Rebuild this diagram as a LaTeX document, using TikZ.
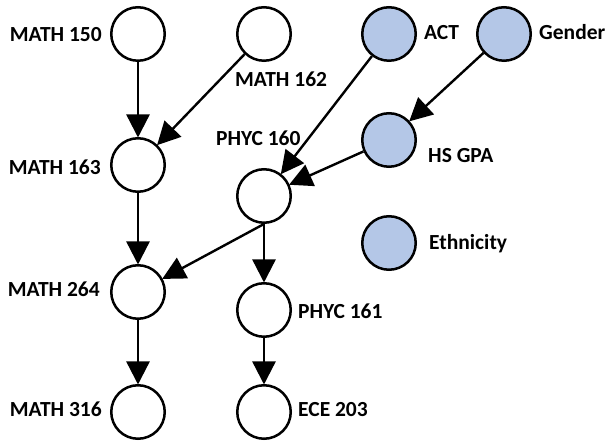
\documentclass[tikz,border=0pt]{standalone}
\usepackage{fontspec}
\setmainfont{Carlito}
\usetikzlibrary{arrows.meta}
\definecolor{nodeblue}{RGB}{180,199,231}
\tikzset{
  course/.style={circle, draw=black, line width=2.5pt, minimum size=53.5pt, inner sep=0pt, fill=white},
  factor/.style={course, fill=nodeblue},
  lbl/.style={inner sep=0pt, font=\fontsize{21.5}{25}\selectfont\bfseries},
  edge/.style={line width=2.4pt, -{Triangle[length=23pt,width=23pt]}, shorten >=-0.5pt}
}
\begin{document}
\begin{tikzpicture}[x=1pt,y=-1pt]
\useasboundingbox (0,0) rectangle (606,443);
% nodes
\node[course] (m150) at (138,34) {};
\node[course] (m162) at (264,34) {};
\node[factor] (act) at (389,34) {};
\node[factor] (gender) at (504,34) {};
\node[course] (m163) at (138,165) {};
\node[factor] (hsgpa) at (389,140) {};
\node[course] (p160) at (264,196) {};
\node[factor] (eth) at (389,243) {};
\node[course] (m264) at (138,292) {};
\node[course] (p161) at (264,310) {};
\node[course] (m316) at (138,412) {};
\node[course] (ece) at (264,412) {};
% labels
\node[lbl, anchor=base east] (l150) at (102,42) {MATH 150};
\node[lbl, anchor=base west] (l162) at (235,87) {MATH 162};
\node[lbl, anchor=base west] (lact) at (424,40) {ACT};
\node[lbl, anchor=base west] (lgen) at (539,40) {Gender};
\node[lbl, anchor=base east] (l163) at (101,175) {MATH 163};
\node[lbl, anchor=base west] (lp160) at (216,146) {PHYC 160};
\node[lbl, anchor=base west] (lhs) at (428,163) {HS GPA};
\node[lbl, anchor=base west] (leth) at (429,250) {Ethnicity};
\node[lbl, anchor=base east] (l264) at (100,297) {MATH 264};
\node[lbl, anchor=base west] (lp161) at (298,319) {PHYC 161};
\node[lbl, anchor=base east] (l316) at (102,417) {MATH 316};
\node[lbl, anchor=base west] (lece) at (298,417) {ECE 203};
% edges
\draw[edge] (m150) -- (m163);
\draw[edge] (m162) -- (m163);
\draw[edge] (act) -- (p160);
\draw[edge] (hsgpa) -- (p160);
\draw[edge] (gender) -- (hsgpa);
\draw[edge] (m163) -- (m264);
\draw[edge] (p160.south) -- (m264);
\draw[edge] (p160) -- (p161);
\draw[edge] (m264) -- (m316);
\draw[edge] (p161) -- (ece);
\end{tikzpicture}
\end{document}
